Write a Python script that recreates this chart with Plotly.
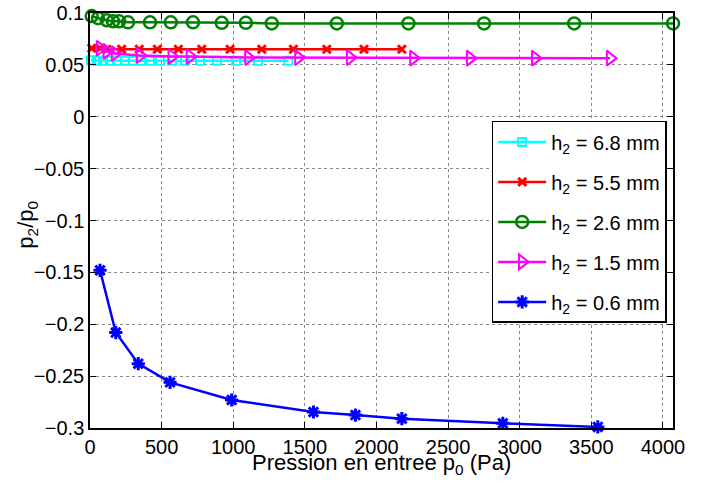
import plotly.graph_objects as go

# ---- data ----
x_68 = [7, 49, 91, 140, 189, 244, 300, 356, 419, 489, 573, 663, 768, 887, 1020, 1173, 1385]
y_68 = [0.0545, 0.054, 0.054, 0.054, 0.054, 0.054, 0.054, 0.054, 0.054, 0.054, 0.054,
        0.054, 0.054, 0.054, 0.054, 0.054, 0.054]

x_55 = [12, 70, 117, 221, 344, 470, 617, 780, 978, 1199, 1420, 1653, 1913, 2177]
y_55 = [0.066, 0.066, 0.065, 0.065, 0.065, 0.065, 0.065, 0.065, 0.065, 0.065, 0.065,
        0.065, 0.065, 0.065]

x_26 = [12, 56, 117, 161, 203, 265, 419, 564, 719, 920, 1088, 1269, 1723, 2223, 2751, 3380, 4070]
y_26 = [0.097, 0.095, 0.093, 0.092, 0.092, 0.091, 0.091, 0.091, 0.091, 0.0905, 0.0905,
        0.090, 0.090, 0.090, 0.090, 0.090, 0.090]

x_15 = [70, 117, 175, 349, 571, 698, 1106, 1455, 1816, 2258, 2654, 3108, 3631]
y_15 = [0.066, 0.063, 0.061, 0.059, 0.058, 0.058, 0.057, 0.057, 0.057, 0.0565, 0.0565,
        0.0565, 0.0565]

x_06 = [70, 180, 337, 559, 989, 1560, 1853, 2177, 2882, 3545]
y_06 = [-0.148, -0.208, -0.238, -0.256, -0.273, -0.2846, -0.2875, -0.291, -0.2955, -0.299]

names = ["h<sub>2</sub> = 6.8 mm", "h<sub>2</sub> = 5.5 mm", "h<sub>2</sub> = 2.6 mm",
         "h<sub>2</sub> = 1.5 mm", "h<sub>2</sub> = 0.6 mm"]
x_ticks = [0, 500, 1000, 1500, 2000, 2500, 3000, 3500, 4000]
y_ticks = [-0.3, -0.25, -0.2, -0.15, -0.1, -0.05, 0, 0.05, 0.1]
y_ticktext = ["\u22120.3", "\u22120.25", "\u22120.2", "\u22120.15", "\u22120.1",
              "\u22120.05", "0", "0.05", "0.1"]
x_title = "Pression en entree p<sub>0</sub> (Pa)"
y_title = "p<sub>2</sub>/p<sub>0</sub>"

FONT = "Liberation Sans, Arial, sans-serif"

series = [
    (x_68, y_68, "#00FFFF", dict(symbol="square-open", size=8, line=dict(width=2))),
    (x_55, y_55, "#FF0000", dict(symbol="x-thin-open", size=8, line=dict(width=3))),
    (x_26, y_26, "#008000", dict(symbol="circle-open", size=12, line=dict(width=2.5))),
    (x_15, y_15, "#FF00FF", dict(symbol="triangle-right-open", size=13, line=dict(width=2))),
    (x_06, y_06, "#0000FF", dict(symbol="asterisk-open", size=11, line=dict(width=3))),
]

fig = go.Figure()
for i, (xs, ys, col, mk) in enumerate(series):
    mk = dict(mk)
    mk["color"] = col
    mk["line"] = dict(mk["line"], color=col)
    fig.add_trace(go.Scatter(
        x=xs, y=ys, mode="lines+markers", name=names[i],
        line=dict(color=col, width=2.5), marker=mk,
        cliponaxis=False, legendgroup=f"g{i}",
    ))

axis_common = dict(
    showline=True, linecolor="black", linewidth=1.5, mirror="ticks",
    ticks="inside", ticklen=6, tickwidth=1, tickcolor="black",
    showgrid=True, gridcolor="#888888", griddash="dot", gridwidth=1,
    zeroline=False, tickfont=dict(family=FONT, size=20, color="black"),
    automargin=False,
)

fig.update_xaxes(range=[0, 4070], tickvals=x_ticks, ticktext=[str(v) for v in x_ticks],
                 **axis_common)
fig.update_yaxes(range=[-0.3, 0.1], tickvals=y_ticks, ticktext=y_ticktext,
                 ticklabeloverflow="allow", **axis_common)

fig.add_annotation(text=x_title, xref="paper", yref="paper", x=0.5, y=0,
                   xanchor="center", yanchor="top", yshift=-20, showarrow=False,
                   font=dict(family=FONT, size=22, color="black"))
fig.add_annotation(text=y_title, xref="paper", yref="paper", x=-0.108, y=0.49,
                   xanchor="center", yanchor="middle", textangle=-90, showarrow=False,
                   font=dict(family=FONT, size=22, color="black"))

fig.update_layout(
    width=701, height=486,
    margin=dict(l=90, r=28, t=13, b=58),
    paper_bgcolor="white", plot_bgcolor="white",
    font=dict(family=FONT, size=20, color="black"),
    showlegend=True,
    legend=dict(x=0.689, y=0.74, xanchor="left", yanchor="top",
                bgcolor="white", bordercolor="black", borderwidth=1.5,
                font=dict(family=FONT, size=20, color="black"),
                tracegroupgap=11, itemwidth=48),
)

# remove the default 8px page margin so the figure fills the window exactly
fig.write_html("out.html", config={"displayModeBar": False},
               post_script="document.body.style.margin='0';")
